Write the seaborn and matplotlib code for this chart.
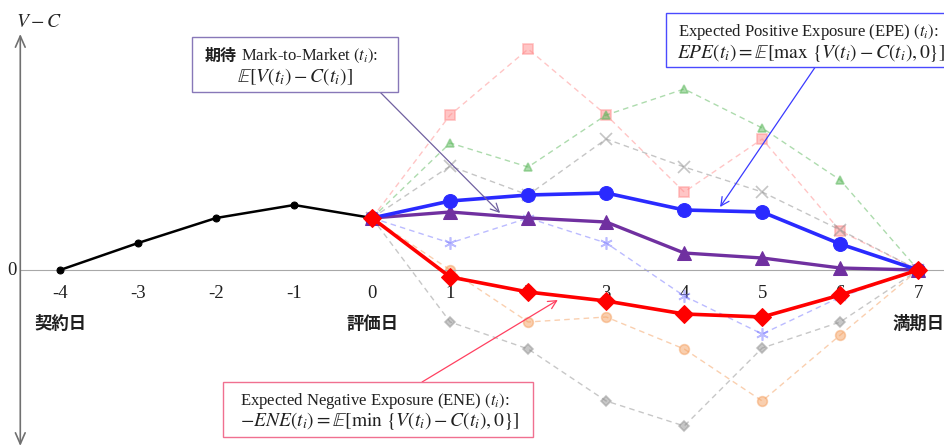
import numpy as np
import pandas as pd
import seaborn as sns
import matplotlib.pyplot as plt
from matplotlib.patches import Rectangle

# --- data (value units are arbitrary) ---
t_past = [-4, -3, -2, -1, 0]
v_past = [0, 27, 52, 65, 52]

t_future = [0, 1, 2, 3, 4, 5, 6, 7]
epe = [52, 69, 75, 77, 60, 58, 26, 0]
mtm = [52, 58, 52, 48, 17, 12, 2, 0]
ene = [52, -7, -22, -31, -44, -47, -25, 0]

# simulated paths (faded, dashed)
path_square = [52, 155, 221, 155, 78, 131, 39, 0]
path_triangle = [52, 127, 103, 155, 181, 142, 90, 0]
path_cross = [52, 104, 75, 131, 103, 78, 40, 0]
path_star = [52, 27, 52, 27, -26, -64, -27, 0]
path_circle = [52, 0, -52, -47, -79, -131, -65, 0]
path_dot = [52, -52, -79, -131, -156, -78, -52, 0]

tick_values = [-4, -3, -2, -1, 0, 1, 2, 3, 4, 5, 6, 7]
tick_labels = ['-4', '-3', '-2', '-1', '0', '1', '2', '3', '4', '5', '6', '7']
date_ticks = [-4, 0, 7]
date_labels = ['契約日', '評価日', '満期日']

sns.set_style('white')
plt.rcParams['font.family'] = ['Liberation Serif', 'Noto Sans CJK JP']
plt.rcParams['mathtext.fontset'] = 'stix'

fig = plt.figure(figsize=(9.44, 4.48), dpi=100)
ax = fig.add_axes([0, 0, 1, 1])

paths = [
    (path_square, '#ff8c8c', 's', 7),
    (path_triangle, '#5cb85c', '^', 6),
    (path_cross, '#8c8c8c', 'x', 8),
    (path_star, '#7878ff', (6, 2, 0), 9),
    (path_circle, '#f5a060', 'o', 7),
    (path_dot, '#909090', 'D', 5),
]
for vals, col, mk, ms in paths:
    sns.lineplot(x=t_future, y=vals, ax=ax, color=col, marker=mk, markersize=ms,
                 markeredgecolor=col, markerfacecolor=col, markeredgewidth=1.2,
                 lw=1.0, linestyle=(0, (4, 3)), alpha=0.5, legend=False, zorder=1)

sns.lineplot(x=t_past, y=v_past, ax=ax, color='black', marker='o', markersize=5,
             markeredgecolor='black', lw=1.8, legend=False, zorder=3)
sns.lineplot(x=t_future, y=mtm, ax=ax, color='#7030a0', marker='^', markersize=10,
             markeredgecolor='#7030a0', lw=2.4, legend=False, zorder=4)
sns.lineplot(x=t_future, y=epe, ax=ax, color='#2a2aff', marker='o', markersize=10,
             markeredgecolor='#2a2aff', lw=2.6, legend=False, zorder=5)
sns.lineplot(x=t_future, y=ene, ax=ax, color='#ff0000', marker='D', markersize=9,
             markeredgecolor='#ff0000', lw=2.6, legend=False, zorder=6)

ax.set_xlim(-4.77, 7.33)
ax.set_ylim(-178, 270)
ax.set_xlabel('')
ax.set_ylabel('')

# x axis drawn through zero
for s in ['top', 'right', 'left']:
    ax.spines[s].set_visible(False)
ax.spines['bottom'].set_position(('data', 0))
ax.spines['bottom'].set_color('#a8a8a8')
ax.spines['bottom'].set_bounds(-4.51, 7.33)
ax.set_xticks(tick_values)
ax.set_xticklabels(tick_labels)
ax.set_xticks(np.arange(-3.5, 7.0, 1.0), minor=True)
ax.tick_params(axis='x', which='major', length=0, pad=11, labelsize=13.5,
               labelcolor='#202020')
ax.tick_params(axis='x', which='minor', length=4, color='#a8a8a8', width=1)
ax.set_yticks([])

# y axis arrow and labels
ax.annotate('', xy=(-4.51, 236), xytext=(-4.51, -176),
            arrowprops=dict(arrowstyle='<->,head_length=0.8,head_width=0.35',
                            color='#707070', lw=1.2, shrinkA=0, shrinkB=0))
ax.text(-4.56, 248, '$V - C$', ha='left', va='center', fontsize=14)
ax.text(-4.62, 0, '0', ha='center', va='center', fontsize=13.5, color='#202020')

for t, lab in zip(date_ticks, date_labels):
    ax.text(t, -54, lab, ha='center', va='center', fontsize=12.5,
            family=['Noto Sans CJK JP'], fontweight='bold', color='#202020')

# annotation boxes: frame, text lines, arrow
def box(x0, x1, y0, y1, ec):
    ax.add_patch(Rectangle((x0, y0), x1 - x0, y1 - y0, fc='white', ec=ec,
                           lw=1, zorder=8, clip_on=False))

def arrow(start, end, col):
    ax.annotate('', xy=end, xytext=start, zorder=7,
                arrowprops=dict(arrowstyle='->,head_length=0.6,head_width=0.3',
                                color=col, lw=0.9, shrinkA=0, shrinkB=0))

txt = dict(va='center', zorder=9, color='#202020')

# MtM box
box(-2.308, 0.333, 178, 233, '#8878b8')
ax.text(-2.15, 214, '期待', ha='left', fontsize=11.5, family=['Noto Sans CJK JP'],
        fontweight='bold', **txt)
ax.text(-1.68, 214, 'Mark-to-Market $(t_i)$:', ha='left', fontsize=12, **txt)
ax.text(-0.99, 193, '$\\mathbb{E}[V(t_i) - C(t_i)]$', ha='center', fontsize=14, **txt)
arrow((0.10, 178), (1.64, 57), '#7060a0')

# EPE box
box(3.77, 7.5, 203, 257, '#4a4aff')
ax.text(3.92, 238, 'Expected Positive Exposure (EPE) $(t_i)$:', ha='left',
        fontsize=12, **txt)
ax.text(3.91, 217, '$EPE(t_i) = \\mathbb{E}[\\mathrm{max}\\ \\{V(t_i) - C(t_i), 0\\}]$',
        ha='left', fontsize=14, **txt)
arrow((5.68, 203), (4.46, 63), '#3a3aff')

# ENE box
box(-1.91, 2.064, -167, -112, '#f07090')
ax.text(-1.69, -131, 'Expected Negative Exposure (ENE) $(t_i)$:', ha='left',
        fontsize=12, **txt)
ax.text(-1.70, -151, '$-ENE(t_i) = \\mathbb{E}[\\mathrm{min}\\ \\{V(t_i) - C(t_i), 0\\}]$',
        ha='left', fontsize=14, **txt)
arrow((0.64, -112), (2.38, -30), '#ff4060')

fig.savefig('out.png', dpi=100)
plt.close(fig)
